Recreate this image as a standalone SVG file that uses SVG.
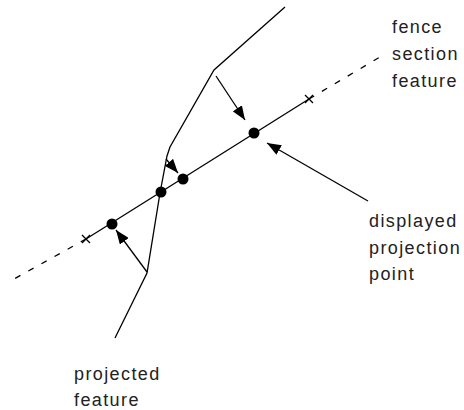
<svg xmlns="http://www.w3.org/2000/svg" width="464" height="410" viewBox="0 0 464 410">
<style>
.ln{fill:none;stroke:#000;stroke-width:1.3}
.dash{fill:none;stroke:#000;stroke-width:1.3;stroke-dasharray:6 9}
.dot{fill:#000}
.lbl{font-family:"Liberation Sans",Arial,sans-serif;font-size:18px;letter-spacing:1.4px;fill:#222}
</style>
<defs>
<marker id="ah" markerUnits="userSpaceOnUse" markerWidth="15" markerHeight="11" refX="14" refY="5.5" orient="auto">
<path d="M0,0 L14,5.5 L0,11 Z" fill="#000"/>
</marker>
</defs>
<rect width="464" height="410" fill="#fff"/>
<g id="projected-feature">
<polyline class="ln" points="285,7 214,70 170,147 167,156 160,193 147,273 115,338"/>
</g>
<g id="fence-section">
<line class="ln" x1="86" y1="239" x2="309" y2="99"/>
<line class="dash" x1="86" y1="239" x2="14" y2="279"/>
<line class="dash" x1="309" y1="99" x2="380" y2="57"/>
<path class="ln" d="M82,235 L90,243 M82,243 L90,235"/>
<path class="ln" d="M305,95 L313,103 M305,103 L313,95"/>
</g>
<g id="projection-points">
<circle class="dot" cx="254" cy="133" r="5.5"/>
<circle class="dot" cx="183" cy="179" r="5.5"/>
<circle class="dot" cx="161" cy="192" r="5.5"/>
<circle class="dot" cx="112" cy="224" r="5.5"/>
</g>
<g id="connectors">
<line class="ln" x1="216" y1="76" x2="245" y2="120" marker-end="url(#ah)"/>
<line class="ln" x1="166" y1="159" x2="178" y2="173" marker-end="url(#ah)"/>
<line class="ln" x1="147" y1="272" x2="116" y2="230" marker-end="url(#ah)"/>
<line class="ln" x1="368" y1="201" x2="267" y2="143" marker-end="url(#ah)"/>
</g>
<g id="labels">
<text class="lbl" x="392" y="33">fence</text>
<text class="lbl" x="392" y="60">section</text>
<text class="lbl" x="392" y="87">feature</text>
<text class="lbl" x="369" y="227">displayed</text>
<text class="lbl" x="369" y="254">projection</text>
<text class="lbl" x="369" y="280">point</text>
<text class="lbl" x="74" y="380">projected</text>
<text class="lbl" x="74" y="406">feature</text>
</g>
</svg>
